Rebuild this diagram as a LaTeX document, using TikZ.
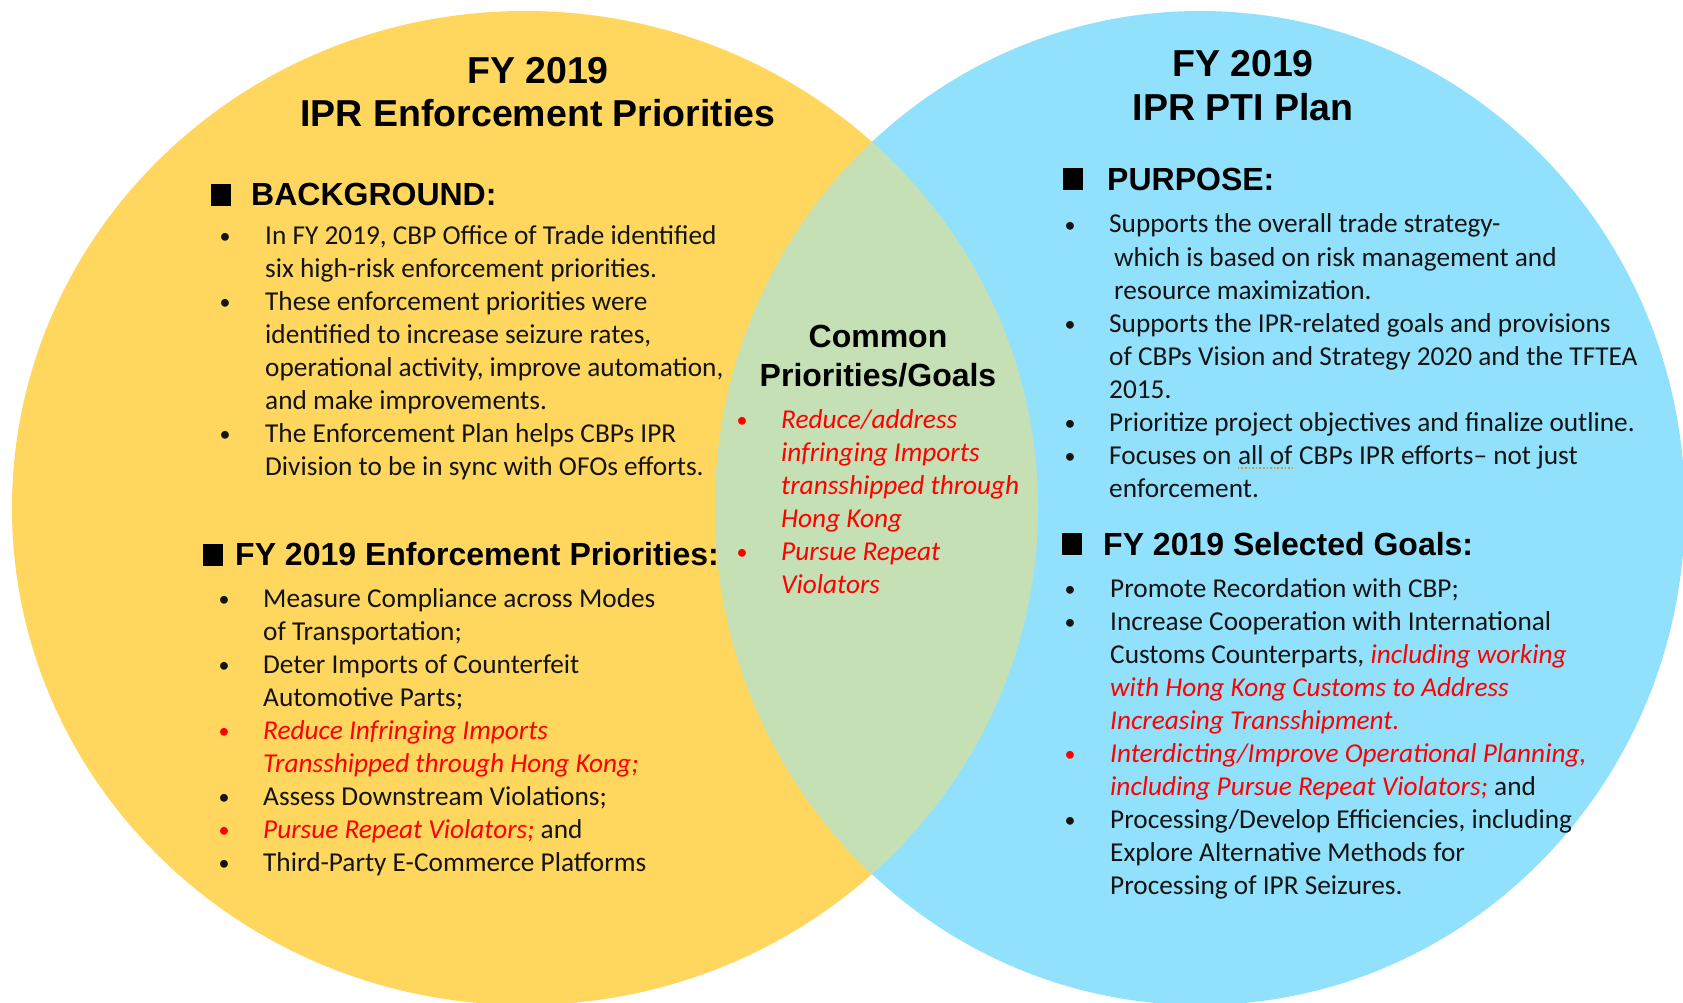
\documentclass[tikz,border=0pt]{standalone}
\usepackage{fontspec}
\setmainfont{Carlito}
\newfontfamily\headfont{Liberation Sans}
\definecolor{cyel}{RGB}{255,215,95}
\definecolor{cblu}{RGB}{146,225,252}
\definecolor{cgrn}{RGB}{197,224,180}
\definecolor{cred}{RGB}{255,0,0}
\definecolor{ctxt}{RGB}{20,20,20}
\definecolor{csquig}{RGB}{205,155,60}
\begin{document}
\begin{tikzpicture}[x=1pt,y=-1pt,
  txt/.style={anchor=base west, inner sep=0pt, text=ctxt, font=\fontsize{27.3}{32}\selectfont},
  rtxt/.style={txt, text=cred, font=\fontsize{27.3}{32}\selectfont\itshape},
  bdot/.style={anchor=base, inner sep=0pt, text=ctxt, font=\fontsize{22}{26}\selectfont},
  rdot/.style={bdot, text=cred},
  head/.style={anchor=base west, inner sep=0pt, text=black, font=\headfont\bfseries\fontsize{32}{38}\selectfont},
  ctitle/.style={anchor=base, inner sep=0pt, text=black, font=\headfont\bfseries\fontsize{37.5}{44}\selectfont},
  chead/.style={anchor=base, inner sep=0pt, text=black, font=\headfont\bfseries\fontsize{32}{38}\selectfont},
  sqbox/.style={fill=black, inner sep=0pt, minimum width=20pt, minimum height=22pt},
  squig/.style={draw=csquig, line width=1.6pt, dotted}
]
\useasboundingbox (0,0) rectangle (1683,1003);
\clip (0,0) rectangle (1683,1003);
\fill[white] (0,0) rectangle (1683,1003);
% circles
\fill[cyel] (525,508) ellipse [x radius=513pt, y radius=497pt];
\fill[cblu] (1200,508) ellipse [x radius=485pt, y radius=497pt];
\begin{scope}
  \clip (525,508) ellipse [x radius=513pt, y radius=497pt];
  \fill[cgrn] (1200,508) ellipse [x radius=485pt, y radius=497pt];
\end{scope}

% ---------- left ----------
\node[ctitle] (lt1) at (538,84) {FY 2019};
\node[ctitle] (lt2) at (538,127) {IPR Enforcement Priorities};

\node[sqbox] (sqa) at (221,195) {};
\node[head] (ha) at (251,206) {BACKGROUND:};
\node[bdot] (da1) at (225,243) {•};
\node[txt] (a1) at (265,244) {In FY 2019, CBP Office of Trade identified};
\node[txt] (a2) at (265,277) {six high-risk enforcement priorities.};
\node[bdot] (da3) at (225,309) {•};
\node[txt] (a3) at (265,310) {These enforcement priorities were};
\node[txt] (a4) at (265,343) {identified to increase seizure rates,};
\node[txt] (a5) at (265,376) {operational activity, improve automation,};
\node[txt] (a6) at (265,409) {and make improvements.};
\node[bdot] (da7) at (225,441) {•};
\node[txt] (a7) at (265,442) {The Enforcement Plan helps CBPs IPR};
\node[txt] (a8) at (265,475) {Division to be in sync with OFOs efforts.};

\node[sqbox] (sqb) at (212.5,554.5) {};
\node[head] (hb) at (235,565) {FY 2019 Enforcement Priorities:};
\node[bdot] (db1) at (224,606) {•};
\node[txt] (b1) at (263,607) {Measure Compliance across Modes};
\node[txt] (b2) at (263,640) {of Transportation;};
\node[bdot] (db3) at (224,672) {•};
\node[txt] (b3) at (263,673) {Deter Imports of Counterfeit};
\node[txt] (b4) at (263,706) {Automotive Parts;};
\node[rdot] (db5) at (224,738) {•};
\node[rtxt] (b5) at (263,739) {Reduce Infringing Imports};
\node[rtxt] (b6) at (263,772) {Transshipped through Hong Kong;};
\node[bdot] (db7) at (224,804) {•};
\node[txt] (b7) at (263,805) {Assess Downstream Violations;};
\node[rdot] (db8) at (224,837) {•};
\node[txt] (b8) at (263,838) {{\color{cred}\itshape Pursue Repeat Violators;} and};
\node[bdot] (db9) at (224,870) {•};
\node[txt] (b9) at (263,871) {Third-Party E-Commerce Platforms};

% ---------- middle ----------
\node[chead] (mt1) at (878,347) {Common};
\node[chead] (mt2) at (878,386) {Priorities/Goals};
\node[rdot] (dm1) at (742,427) {•};
\node[rtxt] (m1) at (781,428) {Reduce/address};
\node[rtxt] (m2) at (781,461) {infringing Imports};
\node[rtxt] (m3) at (781,494) {transshipped through};
\node[rtxt] (m4) at (781,527) {Hong Kong};
\node[rdot] (dm5) at (742,559) {•};
\node[rtxt] (m5) at (781,560) {Pursue Repeat};
\node[rtxt] (m6) at (781,593) {Violators};

% ---------- right ----------
\node[ctitle] (rt1) at (1243,77) {FY 2019};
\node[ctitle] (rt2) at (1243,121) {IPR PTI Plan};

\node[sqbox] (sqc) at (1072.5,179) {};
\node[head] (hc) at (1107,190) {PURPOSE:};
\node[bdot] (dc1) at (1070,232) {•};
\node[txt] (c1) at (1109,233) {Supports the overall trade strategy-};
\node[txt] (c2) at (1114,266) {which is based on risk management and};
\node[txt] (c3) at (1114,299) {resource maximization.};
\node[bdot] (dc4) at (1070,331) {•};
\node[txt] (c4) at (1109,332) {Supports the IPR-related goals and provisions};
\node[txt] (c5) at (1109,365) {of CBPs Vision and Strategy 2020 and the TFTEA};
\node[txt] (c6) at (1109,398) {2015.};
\node[bdot] (dc7) at (1070,430) {•};
\node[txt] (c7) at (1109,431) {Prioritize project objectives and finalize outline.};
\node[bdot] (dc8) at (1070,463) {•};
\node[txt] (c8a) at (1109,464) {Focuses on\ \null};
\node[txt] (c8b) at (c8a.base east) {all of};
\node[txt] (c8c) at (c8b.base east) {\null\ CBPs IPR efforts– not just};
\draw[squig] ([yshift=-4pt]c8b.base west) -- ([yshift=-4pt]c8b.base east);
\node[txt] (c9) at (1109,497) {enforcement.};

\node[sqbox] (sqd) at (1072,543.5) {};
\node[head] (hd) at (1103,555) {FY 2019 Selected Goals:};
\node[bdot] (dd1) at (1070,596) {•};
\node[txt] (d1) at (1110,597) {Promote Recordation with CBP;};
\node[bdot] (dd2) at (1070,629) {•};
\node[txt] (d2) at (1110,630) {Increase Cooperation with International};
\node[txt] (d3) at (1110,663) {Customs Counterparts, {\color{cred}\itshape including working}};
\node[rtxt] (d4) at (1110,696) {with Hong Kong Customs to Address};
\node[rtxt] (d5) at (1110,729) {Increasing Transshipment.};
\node[rdot] (dd6) at (1070,761) {•};
\node[rtxt] (d6) at (1110,762) {Interdicting/Improve Operational Planning,};
\node[txt] (d7) at (1110,795) {{\color{cred}\itshape including Pursue Repeat Violators;} and};
\node[bdot] (dd8) at (1070,827) {•};
\node[txt] (d8) at (1110,828) {Processing/Develop Efficiencies, including};
\node[txt] (d9) at (1110,861) {Explore Alternative Methods for};
\node[txt] (d10) at (1110,894) {Processing of IPR Seizures.};
\end{tikzpicture}
\end{document}
